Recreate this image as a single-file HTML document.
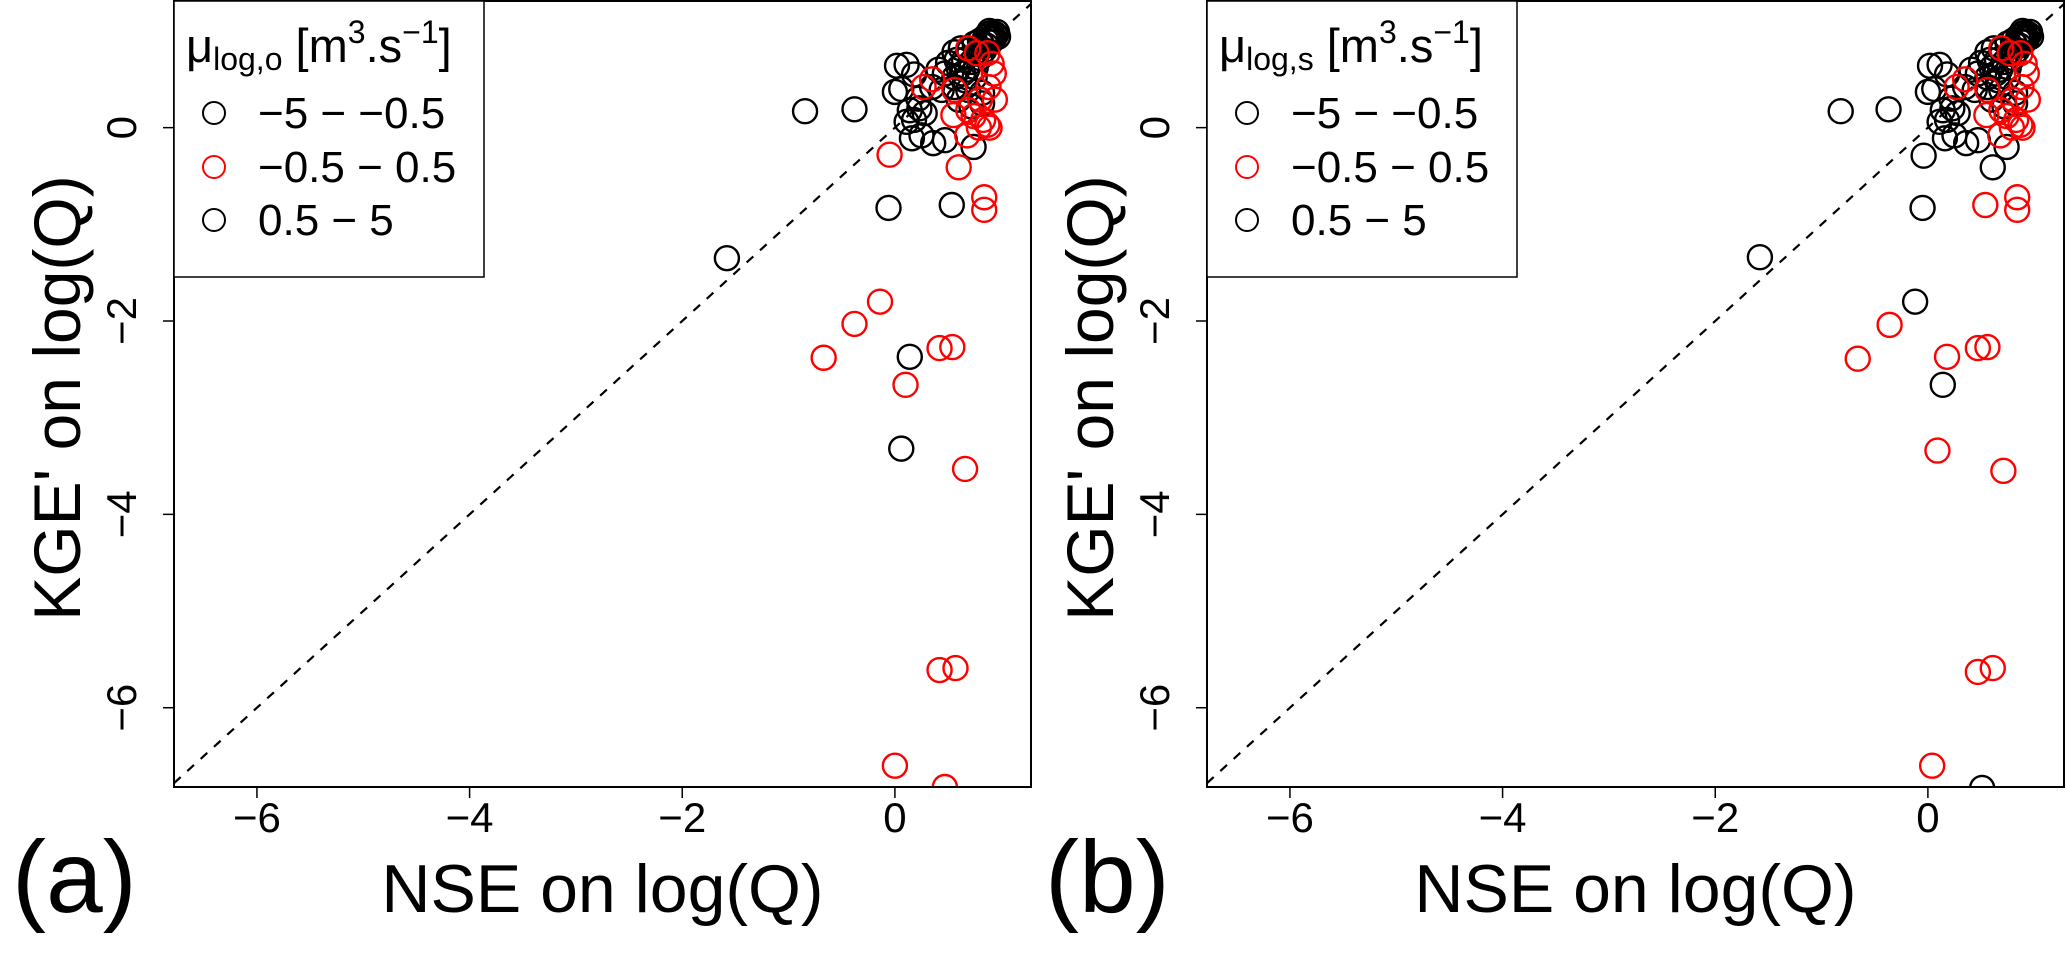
<!DOCTYPE html>
<html><head><meta charset="utf-8"><title>NSE vs KGE'</title>
<style>
html,body{margin:0;padding:0;background:#fff;}
svg{display:block;font-family:"Liberation Sans",Arial,sans-serif;}
</style></head>
<body>
<svg id="chart" width="2067" height="961" viewBox="0 0 2067 961" xmlns="http://www.w3.org/2000/svg"></svg>
<script>
// ---- data (NSE on log(Q), KGE' on log(Q)) ----
const xTicks = [-6, -4, -2, 0];
const yTicks = [-6, -4, -2, 0];
const tickLabels = ["\u22126", "\u22124", "\u22122", "0"];
const legendLabels = ["\u22125 \u2212 \u22120.5", "\u22120.5 \u2212 0.5", "0.5 \u2212 5"];

// shared dense cluster near top-right
const clusterBlackX = [0.02,0.11,0.18,0.0,0.06,0.14,0.18,0.23,0.16,0.25,0.36,0.47,0.28,0.11,0.22,0.41,0.35,0.44,0.5,0.47,0.56,0.66,0.75,0.56,0.69,0.82,0.6,0.72,0.82,0.74,0.56,0.62,0.75,0.85,0.91,0.95,0.88,0.80,0.70,0.65,0.72,0.80,0.90,0.93,0.86,0.78,0.68,0.60,0.76,0.84,0.92,0.97,0.88,0.58,0.64,0.90,0.94,0.86,0.82,0.96,0.89];
const clusterBlackY = [0.64,0.65,0.55,0.37,0.40,0.18,0.08,0.2,-0.11,-0.08,-0.16,-0.13,0.15,0.06,0.30,0.6,0.42,0.39,0.67,0.56,0.52,0.49,0.52,0.42,0.39,0.36,0.29,0.22,0.25,-0.2,0.78,0.82,0.87,0.94,0.98,0.96,0.92,0.90,0.80,0.70,0.68,0.72,0.88,0.92,0.85,0.78,0.60,0.62,0.62,0.80,0.95,0.94,0.97,0.70,0.56,0.93,0.97,0.90,0.86,0.99,1.0];
const clusterRedX = [0.35,0.27,0.56,0.55,0.69,0.8,0.87,0.79,0.89,0.68,0.69,0.77,0.87,0.91,0.93,0.94,0.88,0.83,0.74];
const clusterRedY = [0.5,0.42,0.39,0.13,0.18,0.29,0.03,0.0,0.0,-0.08,0.82,0.77,0.77,0.66,0.56,0.29,0.42,0.08,0.12];

// panel (a) outliers
const aBlackX = [-0.845,-0.38,-1.58,-0.06,0.535,0.14,0.06];
const aBlackY = [0.17,0.19,-1.35,-0.83,-0.80,-2.37,-3.32];
const aRedX = [-0.05,0.60,0.84,0.84,-0.14,-0.38,-0.67,0.42,0.54,0.10,0.66,0.42,0.57,0.0,0.47];
const aRedY = [-0.28,-0.41,-0.72,-0.85,-1.80,-2.03,-2.38,-2.28,-2.27,-2.66,-3.53,-5.61,-5.59,-6.6,-6.82];

// panel (b) outliers
const bBlackX = [-0.82,-0.37,-1.58,-0.04,0.61,-0.05,-0.12,0.14,0.51];
const bBlackY = [0.17,0.19,-1.34,-0.29,-0.41,-0.83,-1.80,-2.66,-6.83];
const bRedX = [0.54,0.84,0.84,-0.36,-0.66,0.18,0.47,0.56,0.09,0.71,0.47,0.61,0.04];
const bRedY = [-0.80,-0.72,-0.85,-2.04,-2.39,-2.37,-2.28,-2.27,-3.34,-3.55,-5.63,-5.59,-6.6];

const xRange = [-6.78, 1.28];
const yRange = [-6.82, 1.31];

const NS = "http://www.w3.org/2000/svg";
const svg = document.getElementById('chart');
function mk(tag, attrs, parent){
  const e = document.createElementNS(NS, tag);
  for (const k in attrs) e.setAttribute(k, attrs[k]);
  (parent||svg).appendChild(e);
  return e;
}

function drawPanel(off, letter, subscript, bx, by, rx, ry){
  const L = 174 + off, R = 1031 + off, T = 1, B = 787;
  const sx = v => L + (v - xRange[0]) / (xRange[1] - xRange[0]) * (R - L);
  const sy = v => T + (yRange[1] - v) / (yRange[1] - yRange[0]) * (B - T);
  const g = mk('g', {});
  
  

  const clip = mk('clipPath', {id: 'clip' + letter}, g);
  mk('rect', {x: L, y: T, width: R - L, height: B - T}, clip);

  const d = mk('line', {x1: sx(xRange[0]), y1: sy(xRange[0]), x2: sx(1.28), y2: sy(1.28), stroke: '#000', 'stroke-width': 2.2, 'stroke-dasharray': '9 9', 'clip-path': 'url(#clip' + letter + ')'}, g);
  
  

  const pts = mk('g', {'clip-path': 'url(#clip' + letter + ')', fill: 'none', 'stroke-width': 2.4}, g);
  
  
  function dots(xs, ys, col, name){
    for (let i = 0; i < xs.length; i++){
      const c = mk('circle', {cx: sx(xs[i]), cy: sy(ys[i]), r: 12, stroke: col}, pts);
      
      
    }
  }
  dots(bx, by, '#000', 'point-black');
  dots(clusterBlackX, clusterBlackY, '#000', 'point-black');
  dots(rx, ry, '#ff0000', 'point-red');
  dots(clusterRedX, clusterRedY, '#ff0000', 'point-red');

  const fr = mk('rect', {x: L, y: T, width: R - L, height: B - T, fill: 'none', stroke: '#000', 'stroke-width': 2}, g);
  
  

  for (let i = 0; i < xTicks.length; i++){
    const x = sx(xTicks[i]);
    mk('line', {x1: x, y1: B, x2: x, y2: B + 11, stroke: '#000', 'stroke-width': 1.5}, g);
    const t = mk('text', {x: x, y: 832, 'font-size': 42, 'text-anchor': 'middle'}, g);
    t.textContent = tickLabels[i];
    
    
  }
  for (let i = 0; i < yTicks.length; i++){
    const y = sy(yTicks[i]);
    mk('line', {x1: L - 11, y1: y, x2: L, y2: y, stroke: '#000', 'stroke-width': 1.5}, g);
    const t = mk('text', {x: 0, y: 0, 'font-size': 42, 'text-anchor': 'middle', transform: 'translate(' + (136 + off) + ',' + y + ') rotate(-90)'}, g);
    t.textContent = tickLabels[i];
    
    
  }
  const xt = mk('text', {x: (L + R) / 2, y: 912, 'font-size': 68, 'text-anchor': 'middle'}, g);
  xt.textContent = 'NSE on log(Q)';
  
  
  const yt = mk('text', {x: 0, y: 0, 'font-size': 66, 'text-anchor': 'middle', transform: 'translate(' + (80 + off) + ',398) rotate(-90)'}, g);
  yt.textContent = "KGE' on log(Q)";
  
  
  const pl = mk('text', {x: 12 + off, y: 912, 'font-size': 102}, g);
  pl.textContent = '(' + letter + ')';
  
  

  const lg = mk('g', {}, g);
  
  
  mk('rect', {x: L, y: T, width: 310, height: 276, fill: '#fff', stroke: '#000', 'stroke-width': 1.5}, lg);
  const tt = mk('text', {x: L + 12, y: 62, 'font-size': 47}, lg);
  
  
  tt.innerHTML = '\u03bc<tspan font-size="32" dy="8">log,' + subscript + '</tspan><tspan dy="-8"> [m</tspan><tspan font-size="32" dy="-19">3</tspan><tspan dy="19">.s</tspan><tspan font-size="32" dy="-19">\u22121</tspan><tspan dy="19">]</tspan>';
  const cols = ['#000', '#ff0000', '#000'];
  const ys = [113, 167, 220];
  for (let i = 0; i < 3; i++){
    const e = mk('g', {}, lg);
    
    
    mk('circle', {cx: L + 40, cy: ys[i], r: 11, fill: 'none', stroke: cols[i], 'stroke-width': 2}, e);
    const t = mk('text', {x: L + 84, y: ys[i] + 15, 'font-size': 44}, e);
    t.textContent = legendLabels[i];
  }
}

drawPanel(0, 'a', 'o', aBlackX, aBlackY, aRedX, aRedY);
drawPanel(1033, 'b', 's', bBlackX, bBlackY, bRedX, bRedY);
</script>
</body></html>
